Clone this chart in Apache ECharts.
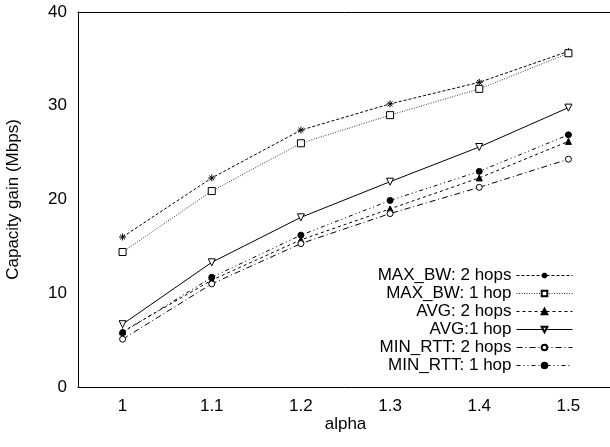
<!DOCTYPE html>
<html><head><meta charset="utf-8">
<script src="https://cdn.jsdelivr.net/npm/echarts@6/dist/echarts.min.js"></script>
<style>html,body{margin:0;padding:0;background:#fff}#c{width:610px;height:447px}</style>
</head><body><div id="c"></div>
<script>
const categories = ['1','1.1','1.2','1.3','1.4','1.5'];
const yTicks = [0,10,20,30,40];
const maxBw2 = [16.0, 22.3, 27.4, 30.2, 32.5, 35.8];
const maxBw1 = [14.4, 20.9, 26.0, 29.0, 31.8, 35.6];
const avg2 = [5.9, 11.4, 15.7, 19.0, 22.3, 26.2];
const avg1 = [6.7, 13.3, 18.1, 21.9, 25.6, 29.8];
const minRtt2 = [5.1, 11.0, 15.3, 18.5, 21.3, 24.3];
const minRtt1 = [5.8, 11.7, 16.2, 19.9, 23.0, 26.9];
const names = ['MAX_BW: 2 hops','MAX_BW: 1 hop','AVG: 2 hops','AVG:1 hop','MIN_RTT: 2 hops','MIN_RTT: 1 hop'];

const FONT = 'Liberation Sans';
const FS = 17;
const star = 'path://M0,5L10,5M5,0L5,10M1.5,1.5L8.5,8.5M8.5,1.5L1.5,8.5';
const downTri = 'path://M0,0L10,0L5,9Z';

function mk(name, data, dash, symbol, fill, size, lineColor){
  return {
    name, type:'line', data, symbol, symbolSize:size,
    lineStyle:{color:lineColor||'#000', width:1, type:dash},
    itemStyle:{color:fill, borderColor:'#000', borderWidth:1},
    emphasis:{disabled:true}, animation:false
  };
}

const chart = echarts.init(document.getElementById('c'));
const axisCommon = {
  axisLine:{show:true, onZero:false, lineStyle:{color:'#000', width:1}},
  splitLine:{show:false}
};
chart.setOption({
  animation:false,
  grid:{left:78, top:12, width:535, height:375, containLabel:false, outerBoundsMode:'none'},
  legend:{
    orient:'vertical', right:32, top:262, align:'right',
    itemWidth:56, itemHeight:7, itemGap:1,
    lineStyle:{width:1},
    textStyle:{fontFamily:FONT, fontSize:FS, color:'#000'},
    data:names
  },
  xAxis:[
    Object.assign({type:'category', data:categories, boundaryGap:true,
      name:'alpha', nameLocation:'middle', nameGap:29, nameMoveOverlap:false,
      nameTextStyle:{fontFamily:FONT, fontSize:FS, color:'#000'},
      axisTick:{inside:true, alignWithLabel:true, length:5, lineStyle:{color:'#000'}},
      axisLabel:{fontFamily:FONT, fontSize:FS, color:'#000', margin:11}}, axisCommon),
    Object.assign({type:'category', data:categories, boundaryGap:true, position:'top',
      axisTick:{inside:true, alignWithLabel:true, length:5, lineStyle:{color:'#000'}},
      axisLabel:{show:false}}, axisCommon)
  ],
  yAxis:[
    Object.assign({type:'value', min:yTicks[0], max:yTicks[yTicks.length-1], interval:10,
      name:'Capacity gain (Mbps)', nameLocation:'middle', nameGap:56, nameMoveOverlap:false,
      nameTextStyle:{fontFamily:FONT, fontSize:FS, color:'#000'},
      axisTick:{inside:true, length:5, lineStyle:{color:'#000'}},
      axisLabel:{fontFamily:FONT, fontSize:FS, color:'#000', margin:11}}, axisCommon),
    Object.assign({type:'value', min:yTicks[0], max:yTicks[yTicks.length-1], interval:10, position:'right',
      axisTick:{inside:true, length:5, lineStyle:{color:'#000'}},
      axisLabel:{show:false}}, axisCommon)
  ],
  series:[
    mk(names[0], maxBw2, [3,2], star, 'none', 7),
    mk(names[1], maxBw1, [1,1.5], 'rect', '#fff', 7, '#333'),
    mk(names[2], avg2, [3,3], 'triangle', '#000', 6),
    mk(names[3], avg1, 'solid', downTri, '#fff', 7),
    mk(names[4], minRtt2, [6,3,1,3], 'circle', '#fff', 6),
    mk(names[5], minRtt1, [4,3,1,3,1,3], 'circle', '#000', 6)
  ]
});
</script></body></html>
